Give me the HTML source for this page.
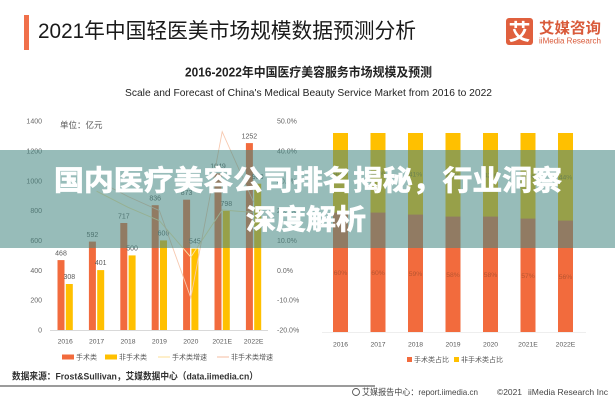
<!DOCTYPE html>
<html>
<head>
<meta charset="utf-8">
<style>
html,body{margin:0;padding:0;background:#fff;}
svg{display:block;}
text{font-family:"Liberation Sans","Noto Sans CJK SC",sans-serif;}
</style>
</head>
<body>
<svg width="615" height="400" viewBox="0 0 615 400" xmlns="http://www.w3.org/2000/svg">
<rect x="0" y="0" width="615" height="400" fill="#fff"/>

<!-- Header -->
<rect x="24" y="15" width="5" height="35" fill="#F0704A"/>
<text x="38" y="38" font-size="21" fill="#1a1a1a" textLength="378" lengthAdjust="spacingAndGlyphs">2021年中国轻医美市场规模数据预测分析</text>

<!-- Logo -->
<rect x="506" y="18" width="27" height="27" rx="3" fill="#E0603E"/>
<text x="519.5" y="40" font-size="22" font-weight="bold" fill="#fff" text-anchor="middle">艾</text>
<text x="539" y="33" font-size="15" font-weight="bold" fill="#D95A3A" textLength="62" lengthAdjust="spacingAndGlyphs">艾媒咨询</text>
<text x="539" y="43.5" font-size="8.5" fill="#D95A3A" textLength="62" lengthAdjust="spacingAndGlyphs">iiMedia Research</text>

<!-- Chart titles -->
<text x="185" y="76.5" font-size="12.5" font-weight="bold" fill="#222" textLength="247" lengthAdjust="spacingAndGlyphs">2016-2022年中国医疗美容服务市场规模及预测</text>
<text x="125" y="96" font-size="10.5" fill="#222" textLength="367" lengthAdjust="spacingAndGlyphs">Scale and Forecast of China's Medical Beauty Service Market from 2016 to 2022</text>

<!-- Left chart axes labels -->
<g font-size="7" fill="#666" text-anchor="end">
<text x="42" y="123.5">1400</text>
<text x="42" y="153.4">1200</text>
<text x="42" y="183.3">1000</text>
<text x="42" y="213.1">800</text>
<text x="42" y="243">600</text>
<text x="42" y="272.8">400</text>
<text x="42" y="302.7">200</text>
<text x="42" y="332.5">0</text>
</g>
<g font-size="7" fill="#666">
<text x="277" y="123.5">50.0%</text>
<text x="277" y="153.4">40.0%</text>
<text x="277" y="183.3">30.0%</text>
<text x="277" y="213.1">20.0%</text>
<text x="277" y="243">10.0%</text>
<text x="277" y="272.8">0.0%</text>
<text x="277" y="302.7">-10.0%</text>
<text x="277" y="332.5">-20.0%</text>
</g>
<text x="60" y="128" font-size="8.5" fill="#555">单位：亿元</text>

<line x1="50" y1="330.5" x2="268" y2="330.5" stroke="#d9d9d9" stroke-width="1"/>

<!-- Orange bars -->
<g fill="#F26B3D">
<rect x="57.5" y="260.1" width="7" height="69.9"/>
<rect x="88.9" y="241.6" width="7" height="88.4"/>
<rect x="120.3" y="223.0" width="7" height="107.0"/>
<rect x="151.7" y="205.2" width="7" height="124.8"/>
<rect x="183.1" y="199.7" width="7" height="130.3"/>
<rect x="214.5" y="173.4" width="7" height="156.6"/>
<rect x="245.9" y="143.1" width="7" height="186.9"/>
</g>
<!-- Yellow bars -->
<g fill="#FFC000">
<rect x="65.8" y="284.0" width="7" height="46.0"/>
<rect x="97.2" y="270.1" width="7" height="59.9"/>
<rect x="128.6" y="255.4" width="7" height="74.6"/>
<rect x="160.0" y="240.4" width="7" height="89.6"/>
<rect x="191.4" y="248.6" width="7" height="81.4"/>
<rect x="222.8" y="210.9" width="7" height="119.1"/>
<rect x="254.2" y="183.7" width="7" height="146.3"/>
</g>
<!-- value labels -->
<g font-size="7" fill="#595959" text-anchor="middle">
<text x="61" y="255.5">468</text>
<text x="92.4" y="237">592</text>
<text x="123.8" y="218.5">717</text>
<text x="155.2" y="200.5">836</text>
<text x="186.6" y="195">873</text>
<text x="218" y="168.5">1049</text>
<text x="249.4" y="138.3">1252</text>
<text x="69.3" y="279">308</text>
<text x="100.7" y="265">401</text>
<text x="132.1" y="250.5">500</text>
<text x="163.5" y="235.5">600</text>
<text x="194.9" y="243.6">545</text>
<text x="226.3" y="206">798</text>
<text x="257.7" y="179">980</text>
</g>
<!-- growth lines -->
<polyline points="96.6,191.2 128,207.3 159.4,220.7 190.8,257.1 222.2,210 253.6,212.4" fill="none" stroke="#FCE4A6" stroke-width="0.9"/>
<polyline points="96.6,180.1 128,196.5 159.4,210.6 190.8,297.8 222.2,131.7 253.6,202.2" fill="none" stroke="#F7C9B0" stroke-width="0.9"/>

<!-- x labels left -->
<g font-size="6.8" fill="#595959" text-anchor="middle">
<text x="65.2" y="343.5">2016</text>
<text x="96.6" y="343.5">2017</text>
<text x="128" y="343.5">2018</text>
<text x="159.4" y="343.5">2019</text>
<text x="190.8" y="343.5">2020</text>
<text x="222.2" y="343.5">2021E</text>
<text x="253.6" y="343.5">2022E</text>
</g>
<!-- left legend -->
<rect x="62" y="354.5" width="12" height="5" fill="#F26B3D"/>
<text x="76" y="359.5" font-size="7" fill="#595959">手术类</text>
<rect x="105" y="354.5" width="12" height="5" fill="#FFC000"/>
<text x="119" y="359.5" font-size="7" fill="#595959">非手术类</text>
<line x1="158" y1="357" x2="170" y2="357" stroke="#FCE4A6" stroke-width="1.2"/>
<text x="172" y="359.5" font-size="7" fill="#595959">手术类增速</text>
<line x1="217" y1="357" x2="229" y2="357" stroke="#F7C9B0" stroke-width="1.2"/>
<text x="231" y="359.5" font-size="7" fill="#595959">非手术类增速</text>

<!-- Right chart -->
<line x1="322" y1="332.5" x2="586" y2="332.5" stroke="#eeeeee" stroke-width="1"/>
<g fill="#FFC000">
<rect x="333" y="133" width="15" height="80"/>
<rect x="370.5" y="133" width="15" height="80"/>
<rect x="408" y="133" width="15" height="82"/>
<rect x="445.5" y="133" width="15" height="84"/>
<rect x="483" y="133" width="15" height="84"/>
<rect x="520.5" y="133" width="15" height="86"/>
<rect x="558" y="133" width="15" height="88"/>
</g>
<g fill="#F26B3D">
<rect x="333" y="212.6" width="15" height="119.4"/>
<rect x="370.5" y="212.6" width="15" height="119.4"/>
<rect x="408" y="214.6" width="15" height="117.4"/>
<rect x="445.5" y="216.6" width="15" height="115.4"/>
<rect x="483" y="216.6" width="15" height="115.4"/>
<rect x="520.5" y="218.6" width="15" height="113.4"/>
<rect x="558" y="220.6" width="15" height="111.4"/>
</g>
<g font-size="6.8" fill="#B85530" text-anchor="middle">
<text x="340.5" y="275">60%</text>
<text x="378" y="275">60%</text>
<text x="415.5" y="276">59%</text>
<text x="453" y="277">58%</text>
<text x="490.5" y="277">58%</text>
<text x="528" y="278">57%</text>
<text x="565.5" y="279">56%</text>
</g>
<g font-size="6.8" fill="#9a7a10" text-anchor="middle">
<text x="340.5" y="175.5">40%</text>
<text x="378" y="175.5">40%</text>
<text x="415.5" y="176.5">41%</text>
<text x="453" y="177.5">42%</text>
<text x="490.5" y="177.5">42%</text>
<text x="528" y="178.5">43%</text>
<text x="565.5" y="179.5">44%</text>
</g>
<g font-size="6.8" fill="#595959" text-anchor="middle">
<text x="340.5" y="346.5">2016</text>
<text x="378" y="346.5">2017</text>
<text x="415.5" y="346.5">2018</text>
<text x="453" y="346.5">2019</text>
<text x="490.5" y="346.5">2020</text>
<text x="528" y="346.5">2021E</text>
<text x="565.5" y="346.5">2022E</text>
</g>
<rect x="407" y="357" width="5" height="5" fill="#F26B3D"/>
<text x="414" y="362" font-size="7" fill="#595959">手术类占比</text>
<rect x="454" y="357" width="5" height="5" fill="#FFC000"/>
<text x="461" y="362" font-size="7" fill="#595959">非手术类占比</text>

<!-- Source -->
<text x="12" y="379.5" font-size="9.5" font-weight="bold" fill="#333" textLength="246" lengthAdjust="spacingAndGlyphs">数据来源：Frost&amp;Sullivan，艾媒数据中心（data.iimedia.cn）</text>
<line x1="0" y1="386" x2="375" y2="386" stroke="#7a7a7a" stroke-width="1.5"/>

<!-- Footer -->
<circle cx="356" cy="392" r="3.5" fill="none" stroke="#555" stroke-width="0.9"/>
<text x="362" y="395" font-size="8.5" fill="#444" textLength="116" lengthAdjust="spacingAndGlyphs">艾媒报告中心：report.iimedia.cn</text>
<text x="497" y="395" font-size="8.5" fill="#444" textLength="25" lengthAdjust="spacingAndGlyphs">©2021</text>
<text x="528" y="395" font-size="8.5" fill="#444" textLength="80" lengthAdjust="spacingAndGlyphs">iiMedia Research Inc</text>

<!-- Overlay band -->
<rect x="0" y="150" width="615" height="98" fill="rgb(70,135,130)" fill-opacity="0.56"/>
<text x="54" y="190" font-size="28" font-weight="bold" fill="#fff" stroke="#fff" stroke-width="0.7" textLength="508" lengthAdjust="spacingAndGlyphs">国内医疗美容公司排名揭秘，行业洞察</text>
<text x="246" y="229" font-size="28" font-weight="bold" fill="#fff" stroke="#fff" stroke-width="0.7" textLength="120" lengthAdjust="spacingAndGlyphs">深度解析</text>
</svg>
</body>
</html>
